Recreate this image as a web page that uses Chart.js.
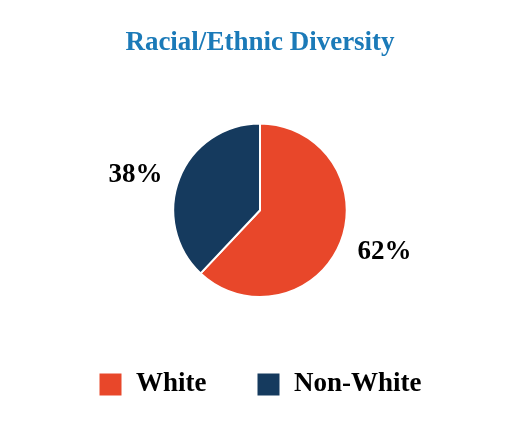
<!DOCTYPE html>
<html>
<head>
<meta charset="utf-8">
<script src="https://cdn.jsdelivr.net/npm/chart.js@4"></script>
<style>
  html, body { margin: 0; padding: 0; background: #fff; }
  #wrap { width: 520px; height: 440px; }
</style>
</head>
<body>
<div id="wrap"><canvas id="chart"></canvas></div>
<script>
const categories = ['White', 'Non-White'];
const shares = [62, 38];
const sliceColors = ['#e8472a', '#153a5e'];

/** Draws the percent labels just outside each slice, aligned away from the pie. */
const outsideLabels = {
    id: 'outsideLabels',
    afterDatasetsDraw(chart) {
        const ctx = chart.ctx;
        const arcs = chart.getDatasetMeta(0).data;
        ctx.save();
        ctx.font = 'bold 27px "Liberation Serif", "DejaVu Serif", serif';
        ctx.fillStyle = '#000';
        ctx.textBaseline = 'middle';
        arcs.forEach((arc, i) => {
            const {x, y, startAngle, endAngle, outerRadius} = arc.getProps(['x', 'y', 'startAngle', 'endAngle', 'outerRadius'], true);
            const mid = (startAngle + endAngle) / 2;
            const r = outerRadius + 18;
            ctx.textAlign = Math.cos(mid) < 0 ? 'right' : 'left';
            ctx.fillText(shares[i] + '%', x + Math.cos(mid) * r, y + Math.sin(mid) * r + 3);
        });
        ctx.restore();
    }
};

function makeChart() {
    const ctx = document.getElementById('chart');

    const data = {
        labels: categories,
        datasets: [{
            data: shares,
            backgroundColor: sliceColors,
            borderColor: '#ffffff',
            borderWidth: 2,
            radius: '79%',
        }]
    };

    const config = {
        type: 'pie',
        data: data,
        plugins: [outsideLabels],
        options: {
            responsive: true,
            maintainAspectRatio: false,
            animation: false,
            layout: {
                padding: {top: 10, bottom: 32}
            },
            plugins: {
                title: {
                    display: true,
                    text: 'Racial/Ethnic Diversity',
                    color: '#1b7ab8',
                    font: {family: '"Liberation Serif", serif', size: 27, weight: 'bold'},
                    padding: {top: 17, bottom: 40}
                },
                legend: {
                    position: 'bottom',
                    labels: {
                        color: '#000',
                        boxWidth: 24,
                        boxHeight: 24,
                        padding: 50,
                        font: {family: '"Liberation Serif", serif', size: 27, weight: 'bold'}
                    }
                },
                tooltip: {enabled: false}
            }
        }
    };

    new Chart(ctx, config);
}

makeChart();
</script>
</body>
</html>
